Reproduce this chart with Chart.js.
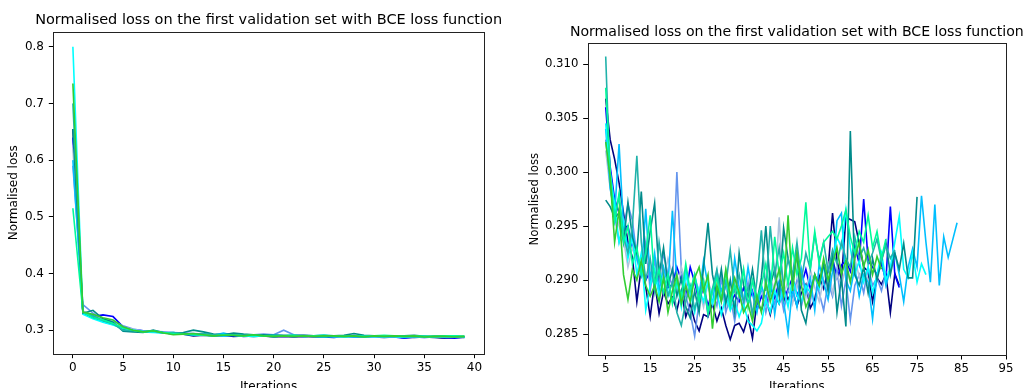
<!DOCTYPE html>
<html>
<head>
<meta charset="utf-8">
<script src="https://cdn.jsdelivr.net/npm/chart.js@4"></script>
<style>
    html, body { margin: 0; padding: 0; background: #fff; overflow: hidden; }
    .box { position: absolute; top: 0; width: 513px; height: 400px; }
</style>
</head>
<body>
<div class="box" style="left:0"><canvas id="leftChart" width="513" height="400"></canvas></div>
<div class="box" style="left:513px"><canvas id="rightChart" width="513" height="400"></canvas></div>
<script>
const titleText = "Normalised loss on the first validation set with BCE loss function";
const runColors = ['#000080', '#0000ff', '#6495ed', '#b0c4de', '#00bfff', '#00ffff', '#008b8b', '#20b2aa', '#00fa9a', '#32cd32'];

// left plot: iterations 0..39
const leftStart = 0;
const leftXTicks = [0, 5, 10, 15, 20, 25, 30, 35, 40];
const leftYTicks = [0.3, 0.4, 0.5, 0.6, 0.7, 0.8];
const leftNavy = [0.655, 0.330, 0.322, 0.316, 0.312, 0.302, 0.300, 0.297, 0.298, 0.296, 0.294, 0.293, 0.290, 0.291, 0.290, 0.291, 0.289, 0.290, 0.289, 0.290, 0.288, 0.289, 0.288, 0.289, 0.288, 0.288, 0.287, 0.289, 0.288, 0.288, 0.288, 0.287, 0.288, 0.287, 0.287, 0.288, 0.287, 0.286, 0.287, 0.287];
const leftBlue = [0.640, 0.332, 0.324, 0.327, 0.324, 0.306, 0.301, 0.299, 0.297, 0.296, 0.293, 0.294, 0.291, 0.292, 0.291, 0.290, 0.291, 0.289, 0.290, 0.291, 0.290, 0.289, 0.290, 0.289, 0.290, 0.289, 0.288, 0.289, 0.288, 0.289, 0.288, 0.289, 0.288, 0.286, 0.288, 0.287, 0.288, 0.287, 0.286, 0.288];
const leftCornflower = [0.590, 0.345, 0.330, 0.320, 0.315, 0.308, 0.302, 0.299, 0.298, 0.297, 0.296, 0.295, 0.294, 0.293, 0.292, 0.293, 0.292, 0.291, 0.292, 0.293, 0.292, 0.300, 0.292, 0.291, 0.290, 0.291, 0.290, 0.289, 0.291, 0.290, 0.290, 0.289, 0.290, 0.289, 0.288, 0.289, 0.288, 0.287, 0.288, 0.288];
const leftSteel = [0.620, 0.334, 0.326, 0.318, 0.313, 0.305, 0.301, 0.298, 0.297, 0.296, 0.295, 0.294, 0.293, 0.292, 0.292, 0.291, 0.291, 0.290, 0.291, 0.290, 0.290, 0.289, 0.290, 0.289, 0.289, 0.290, 0.289, 0.288, 0.289, 0.289, 0.288, 0.289, 0.288, 0.288, 0.289, 0.288, 0.287, 0.288, 0.288, 0.287];
const leftSky = [0.600, 0.330, 0.325, 0.315, 0.310, 0.304, 0.300, 0.298, 0.297, 0.295, 0.296, 0.294, 0.292, 0.293, 0.291, 0.295, 0.291, 0.292, 0.290, 0.291, 0.292, 0.290, 0.291, 0.289, 0.290, 0.291, 0.289, 0.290, 0.289, 0.290, 0.289, 0.290, 0.289, 0.287, 0.289, 0.288, 0.289, 0.288, 0.289, 0.288];
const leftCyan = [0.800, 0.328, 0.320, 0.314, 0.309, 0.303, 0.300, 0.297, 0.296, 0.295, 0.294, 0.293, 0.292, 0.292, 0.291, 0.290, 0.291, 0.290, 0.289, 0.290, 0.289, 0.290, 0.289, 0.290, 0.289, 0.288, 0.289, 0.288, 0.289, 0.288, 0.289, 0.288, 0.289, 0.288, 0.289, 0.288, 0.288, 0.289, 0.288, 0.288];
const leftDarkCyan = [0.655, 0.330, 0.335, 0.320, 0.314, 0.298, 0.297, 0.296, 0.300, 0.296, 0.294, 0.296, 0.300, 0.297, 0.293, 0.292, 0.295, 0.293, 0.292, 0.292, 0.291, 0.291, 0.290, 0.291, 0.290, 0.289, 0.290, 0.291, 0.294, 0.291, 0.290, 0.290, 0.289, 0.290, 0.291, 0.289, 0.289, 0.290, 0.289, 0.289];
const leftSeaGreen = [0.700, 0.331, 0.326, 0.317, 0.311, 0.300, 0.299, 0.297, 0.298, 0.295, 0.296, 0.294, 0.293, 0.294, 0.292, 0.291, 0.292, 0.291, 0.292, 0.290, 0.291, 0.290, 0.291, 0.290, 0.290, 0.289, 0.290, 0.289, 0.290, 0.289, 0.290, 0.289, 0.290, 0.289, 0.288, 0.289, 0.288, 0.289, 0.289, 0.288];
const leftSpring = [0.515, 0.332, 0.322, 0.318, 0.312, 0.304, 0.300, 0.297, 0.299, 0.296, 0.294, 0.293, 0.292, 0.291, 0.290, 0.292, 0.291, 0.290, 0.291, 0.290, 0.289, 0.290, 0.291, 0.289, 0.290, 0.291, 0.290, 0.289, 0.290, 0.289, 0.290, 0.291, 0.290, 0.289, 0.290, 0.289, 0.289, 0.290, 0.290, 0.289];
const leftLime = [0.735, 0.332, 0.328, 0.322, 0.318, 0.306, 0.300, 0.297, 0.299, 0.295, 0.292, 0.293, 0.294, 0.292, 0.290, 0.291, 0.291, 0.290, 0.292, 0.290, 0.289, 0.290, 0.289, 0.290, 0.289, 0.290, 0.290, 0.289, 0.290, 0.288, 0.290, 0.289, 0.290, 0.289, 0.290, 0.288, 0.289, 0.289, 0.288, 0.289];

// right plot: iterations from 5, runs stop at different points
const rightStart = 5;
const rightXTicks = [5, 15, 25, 35, 45, 55, 65, 75, 85, 95];
const rightYTicks = [0.285, 0.290, 0.295, 0.300, 0.305, 0.310];
const rightNavy = [
    0.3068, 0.3030, 0.3012, 0.2990, 0.2962,
    0.2935, 0.2921, 0.2880, 0.2912, 0.2894,
    0.2866, 0.2898, 0.2869, 0.2889, 0.2878,
    0.2884, 0.2872, 0.2890, 0.2866, 0.2878,
    0.2862, 0.2853, 0.2868, 0.2866, 0.2878,
    0.2862, 0.2874, 0.2858, 0.2845, 0.2858,
    0.2860, 0.2852, 0.2866, 0.2846, 0.2880,
    0.2872, 0.2884, 0.2868, 0.2886, 0.2878,
    0.2894, 0.2882, 0.2890, 0.2876, 0.2888,
    0.2896, 0.2874, 0.2882, 0.2904, 0.2892,
    0.2910, 0.2962, 0.2918, 0.2900, 0.2958,
    0.2956, 0.2954, 0.2934, 0.2912, 0.2908,
    0.2880, 0.2902, 0.2896, 0.2905, 0.2870,
    0.2906, 0.2895];
const rightBlue = [
    0.3060, 0.3005, 0.2975, 0.2962, 0.2948,
    0.2950, 0.2930, 0.2922, 0.2914, 0.2900,
    0.2908, 0.2895, 0.2903, 0.2888, 0.2893,
    0.2896, 0.2912, 0.2900, 0.2887, 0.2912,
    0.2898, 0.2880, 0.2894, 0.2876, 0.2890,
    0.2905, 0.2882, 0.2896, 0.2878, 0.2886,
    0.2880, 0.2893, 0.2878, 0.2890, 0.2872,
    0.2885, 0.2877, 0.2893, 0.2884, 0.2898,
    0.2880, 0.2892, 0.2902, 0.2886, 0.2895,
    0.2910, 0.2892, 0.2904, 0.2896, 0.2916,
    0.2908, 0.2920, 0.2902, 0.2914, 0.2918,
    0.2908, 0.2932, 0.2915, 0.2975, 0.2918,
    0.2912, 0.2905, 0.2915, 0.2900, 0.2968,
    0.2905, 0.2893];
const rightCornflower = [
    0.3030, 0.2992, 0.2960, 0.2935, 0.2948,
    0.2970, 0.2955, 0.2922, 0.2905, 0.2935,
    0.2890, 0.2918, 0.2898, 0.2925, 0.2905,
    0.2895, 0.3000, 0.2910, 0.2885, 0.2870,
    0.2848, 0.2880, 0.2896, 0.2868, 0.2890,
    0.2876, 0.2902, 0.2870, 0.2885, 0.2862,
    0.2888, 0.2874, 0.2898, 0.2866, 0.2880,
    0.2892, 0.2870, 0.2888, 0.2878, 0.2895,
    0.2872, 0.2890, 0.2884, 0.2900, 0.2876,
    0.2893, 0.2880, 0.2905, 0.2888, 0.2872,
    0.2898, 0.2885, 0.2910, 0.2876, 0.2900,
    0.2863, 0.2895, 0.2905, 0.2888, 0.2912,
    0.2895, 0.2902, 0.2890, 0.2908];
const rightSteel = [
    0.3020, 0.2985, 0.2965, 0.2950, 0.2938,
    0.2912, 0.2930, 0.2918, 0.2905, 0.2925,
    0.2910, 0.2895, 0.2915, 0.2900, 0.2920,
    0.2905, 0.2890, 0.2912, 0.2898, 0.2885,
    0.2902, 0.2890, 0.2875, 0.2898, 0.2888,
    0.2905, 0.2882, 0.2895, 0.2876, 0.2900,
    0.2888, 0.2910, 0.2885, 0.2897, 0.2880,
    0.2895, 0.2878, 0.2903, 0.2890, 0.2958,
    0.2886, 0.2900, 0.2878, 0.2895, 0.2905,
    0.2884, 0.2910, 0.2893, 0.2880, 0.2902,
    0.2915, 0.2888, 0.2905, 0.2895, 0.2912,
    0.2898, 0.2920, 0.2903, 0.2910, 0.2900];
const rightSky = [
    0.3040, 0.2985, 0.2960, 0.3026, 0.2950,
    0.2930, 0.2945, 0.2920, 0.2905, 0.2966,
    0.2900, 0.2925, 0.2890, 0.2912, 0.2895,
    0.2964, 0.2898, 0.2882, 0.2910, 0.2888,
    0.2905, 0.2885, 0.2918, 0.2895, 0.2878,
    0.2908, 0.2890, 0.2900, 0.2875, 0.2920,
    0.2893, 0.2880, 0.2912, 0.2887, 0.2870,
    0.2895, 0.2882, 0.2905, 0.2868, 0.2898,
    0.2880, 0.2851, 0.2893, 0.2875, 0.2910,
    0.2888, 0.2902, 0.2872, 0.2915, 0.2898,
    0.2882, 0.2908, 0.2955, 0.2962, 0.2900,
    0.2890, 0.2912, 0.2885, 0.2905, 0.2898,
    0.2864, 0.2905, 0.2920, 0.2895, 0.2910,
    0.2925, 0.2905, 0.2880, 0.2912, 0.2929,
    0.2912, 0.2978, 0.2935, 0.2898, 0.2970,
    0.2895, 0.2940, 0.2921, 0.2937, 0.2953];
const rightCyan = [
    0.3045, 0.3000, 0.2970, 0.2935, 0.2955,
    0.2920, 0.2940, 0.2905, 0.2925, 0.2872,
    0.2895, 0.2910, 0.2885, 0.2902, 0.2890,
    0.2880, 0.2898, 0.2875, 0.2905, 0.2888,
    0.2870, 0.2892, 0.2880, 0.2900, 0.2878,
    0.2890, 0.2868, 0.2885, 0.2872, 0.2880,
    0.2866, 0.2878, 0.2862, 0.2858, 0.2853,
    0.2860, 0.2882, 0.2870, 0.2890, 0.2878,
    0.2893, 0.2875, 0.2902, 0.2886, 0.2880,
    0.2895, 0.2888, 0.2905, 0.2892, 0.2912,
    0.2900, 0.2915, 0.2940, 0.2930, 0.2965,
    0.2930, 0.2905, 0.2918, 0.2898, 0.2912,
    0.2888, 0.2905, 0.2925, 0.2900, 0.2912,
    0.2935, 0.2959, 0.2910, 0.2902, 0.2925,
    0.2898, 0.2915, 0.2905];
const rightDarkCyan = [
    0.2974, 0.2968, 0.2958, 0.2962, 0.2935,
    0.2972, 0.2940, 0.2925, 0.2982, 0.2915,
    0.2945, 0.2971, 0.2905, 0.2930, 0.2895,
    0.2910, 0.2885, 0.2902, 0.2875, 0.2865,
    0.2890, 0.2870, 0.2912, 0.2953, 0.2905,
    0.2885, 0.2910, 0.2878, 0.2900, 0.2870,
    0.2925, 0.2895, 0.2885, 0.2910, 0.2880,
    0.2902, 0.2950, 0.2895, 0.2910, 0.2885,
    0.2948, 0.2920, 0.2900, 0.2925, 0.2872,
    0.2860, 0.2888, 0.2905, 0.2895, 0.2915,
    0.2890, 0.2925, 0.2870, 0.2902, 0.2857,
    0.3038, 0.2905, 0.2895, 0.2912, 0.2888,
    0.2920, 0.2900, 0.2918, 0.2935, 0.2905,
    0.2925, 0.2910, 0.2934, 0.2902, 0.2902,
    0.2977];
const rightSeaGreen = [
    0.3107, 0.2990, 0.2955, 0.2978, 0.2940,
    0.2925, 0.2950, 0.3015, 0.2935, 0.2900,
    0.2920, 0.2890, 0.2935, 0.2905, 0.2885,
    0.2898, 0.2870, 0.2858, 0.2880, 0.2895,
    0.2873, 0.2888, 0.2900, 0.2868, 0.2892,
    0.2910, 0.2880, 0.2895, 0.2928, 0.2890,
    0.2905, 0.2880, 0.2893, 0.2868, 0.2900,
    0.2946, 0.2890, 0.2950, 0.2905, 0.2930,
    0.2895, 0.2920, 0.2905, 0.2935, 0.2900,
    0.2925, 0.2910, 0.2942, 0.2918, 0.2935,
    0.2908, 0.2928, 0.2915, 0.2935, 0.2920,
    0.2912, 0.2940, 0.2920, 0.2930, 0.2915,
    0.2925, 0.2938, 0.2918, 0.2932, 0.2920,
    0.2928];
const rightSpring = [
    0.3078, 0.3000, 0.2955, 0.2980, 0.2935,
    0.2950, 0.2915, 0.2930, 0.2905, 0.2925,
    0.2960, 0.2895, 0.2910, 0.2888, 0.2905,
    0.2878, 0.2900, 0.2885, 0.2915, 0.2890,
    0.2905, 0.2880, 0.2898, 0.2870, 0.2890,
    0.2902, 0.2882, 0.2908, 0.2876, 0.2895,
    0.2885, 0.2910, 0.2875, 0.2900, 0.2882,
    0.2895, 0.2915, 0.2888, 0.2940, 0.2905,
    0.2925, 0.2895, 0.2930, 0.2905, 0.2920,
    0.2972, 0.2910, 0.2945, 0.2915, 0.2935,
    0.2940, 0.2945, 0.2938, 0.2950, 0.2965,
    0.2940, 0.2925, 0.2945, 0.2935, 0.2960,
    0.2930, 0.2945, 0.2920, 0.2938];
const rightLime = [
    0.3028, 0.2995, 0.2935, 0.2965, 0.2905,
    0.2882, 0.2910, 0.2900, 0.2918, 0.2895,
    0.2885, 0.2895, 0.2880, 0.2902, 0.2870,
    0.2890, 0.2905, 0.2878, 0.2895, 0.2880,
    0.2902, 0.2912, 0.2890, 0.2905, 0.2855,
    0.2895, 0.2880, 0.2910, 0.2885, 0.2902,
    0.2888, 0.2870, 0.2878, 0.2862, 0.2885,
    0.2870, 0.2898, 0.2880, 0.2895, 0.2910,
    0.2885, 0.2960, 0.2890, 0.2925, 0.2895,
    0.2875, 0.2885, 0.2905, 0.2895, 0.2920,
    0.2900, 0.2915, 0.2930, 0.2905, 0.2918,
    0.2898, 0.2920, 0.2935, 0.2912, 0.2928,
    0.2905, 0.2922, 0.2910];

const leftRuns = [leftNavy, leftBlue, leftCornflower, leftSteel, leftSky, leftCyan, leftDarkCyan, leftSeaGreen, leftSpring, leftLime];
const rightRuns = [rightNavy, rightBlue, rightCornflower, rightSteel, rightSky, rightCyan, rightDarkCyan, rightSeaGreen, rightSpring, rightLime];

const fontFamily = "'DejaVu Sans', sans-serif";

// box around the plot area (matplotlib spines) and the title centred over the axes
const framePlugin = {
    id: 'frame',
    afterDraw(chart, args, opts) {
        const a = chart.chartArea;
        const ctx = chart.ctx;
        ctx.save();
        ctx.strokeStyle = '#222';
        ctx.lineWidth = 1;
        ctx.strokeRect(Math.round(a.left) + 0.5, Math.round(a.top) + 0.5, Math.round(a.right - a.left), Math.round(a.bottom - a.top));
        ctx.fillStyle = '#000';
        ctx.font = opts.size + 'px ' + fontFamily;
        ctx.textAlign = 'center';
        ctx.textBaseline = 'middle';
        ctx.fillText(opts.text, (a.left + a.right) / 2, opts.y);
        ctx.restore();
    }
};

function makeDatasets(runs, start) {
    return runs.map((run, k) => ({
        label: 'run ' + (k + 1),
        data: run.map((v, i) => ({x: start + i, y: v})),
        borderColor: runColors[k],
        backgroundColor: runColors[k],
        borderWidth: 1.6,
        pointRadius: 0,
        tension: 0,
        fill: false,
        order: runs.length - k   // later runs drawn on top, as in matplotlib
    }));
}

function loadChart(id, cfg) {
    const ctx = document.getElementById(id);
    new Chart(ctx, {
        type: 'line',
        data: { datasets: makeDatasets(cfg.runs, cfg.start) },
        options: {
            responsive: false,
            animation: false,
            layout: { padding: { left: 0, right: cfg.padRight, top: cfg.padTop, bottom: 0 } },
            plugins: {
                legend: { display: false },
                tooltip: { enabled: false },
                title: { display: false },
                frame: { text: titleText, size: cfg.titleSize, y: cfg.titleY }
            },
            scales: {
                x: {
                    type: 'linear',
                    min: cfg.xMin,
                    max: cfg.xMax,
                    afterBuildTicks: (s) => { s.ticks = cfg.xTicks.map(v => ({value: v})); },
                    afterFit: (s) => { s.height = cfg.xHeight; },
                    grid: { drawOnChartArea: false, drawTicks: true, tickLength: 4.5, tickColor: '#000' },
                    border: { display: false },
                    ticks: {
                        autoSkip: false, maxRotation: 0, padding: 2, color: '#000',
                        font: { family: fontFamily, size: cfg.tickSize },
                        callback: (v) => String(v)
                    },
                    title: {
                        display: true, text: 'Iterations', color: '#000',
                        font: { family: fontFamily, size: cfg.tickSize, lineHeight: 1.2 },
                        padding: { top: 0, bottom: 5.8 }
                    }
                },
                y: {
                    type: 'linear',
                    min: cfg.yMin,
                    max: cfg.yMax,
                    afterBuildTicks: (s) => { s.ticks = cfg.yTicks.map(v => ({value: v})); },
                    afterFit: (s) => { s.width = cfg.yWidth; },
                    grid: { drawOnChartArea: false, drawTicks: true, tickLength: 4.5, tickColor: '#000' },
                    border: { display: false },
                    ticks: {
                        autoSkip: false, padding: 4.8, color: '#000',
                        font: { family: fontFamily, size: cfg.tickSize },
                        callback: (v) => v.toFixed(cfg.yDigits)
                    },
                    title: {
                        display: true, text: 'Normalised loss', color: '#000',
                        font: { family: fontFamily, size: cfg.tickSize, lineHeight: 1.2 },
                        padding: { top: cfg.yTitlePad, bottom: 0 }
                    }
                }
            }
        },
        plugins: [framePlugin]
    });
}

window.onload = () => {
    loadChart('leftChart', {
        runs: leftRuns, start: leftStart,
        xTicks: leftXTicks, yTicks: leftYTicks,
        xMin: -1.95, xMax: 40.95, yMin: 0.2585, yMax: 0.8265, yDigits: 1,
        padRight: 29, padTop: 31.7, titleSize: 14.5, titleY: 20.3, tickSize: 12,
        xHeight: 46.3, yWidth: 53.3, yTitlePad: 6.6
    });
    loadChart('rightChart', {
        runs: rightRuns, start: rightStart,
        xTicks: rightXTicks, yTicks: rightYTicks,
        xMin: 0.95, xMax: 95, yMin: 0.28306, yMax: 0.31192, yDigits: 3,
        padRight: 20, padTop: 43.3, titleSize: 14.1, titleY: 32, tickSize: 11.7,
        xHeight: 45, yWidth: 74.7, yTitlePad: 14.8
    });
};
</script>
</body>
</html>
